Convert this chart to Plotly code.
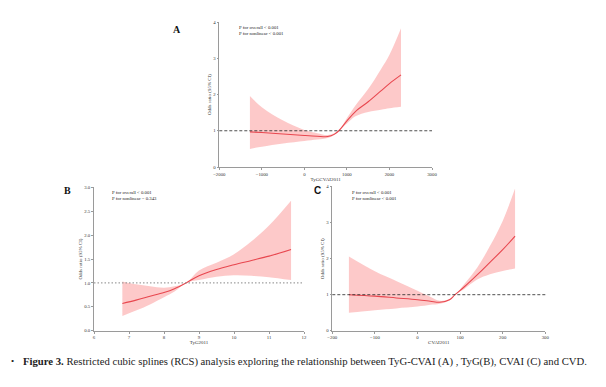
import plotly.graph_objects as go

# ---------------- data ----------------
# Panel A: TyG-CVAI
a_x = [-1280, -1000, -500, 0, 300, 550, 700, 810, 1000, 1200, 1500, 1800, 2000, 2272]
a_or = [0.97, 0.95, 0.91, 0.87, 0.85, 0.84, 0.90, 1.00, 1.27, 1.53, 1.80, 2.10, 2.30, 2.54]
a_lo = [0.50, 0.56, 0.65, 0.72, 0.76, 0.80, 0.88, 1.00, 1.20, 1.40, 1.52, 1.58, 1.62, 1.66]
a_hi = [1.96, 1.65, 1.28, 1.02, 0.93, 0.88, 0.93, 1.00, 1.35, 1.70, 2.15, 2.70, 3.10, 3.83]

# Panel B: TyG
b_x = [6.81, 7.2, 7.6, 8.0, 8.3, 8.63, 9.0, 9.5, 10.0, 10.5, 11.0, 11.63]
b_or = [0.57, 0.64, 0.72, 0.80, 0.88, 1.00, 1.15, 1.28, 1.38, 1.47, 1.56, 1.70]
b_lo = [0.31, 0.42, 0.55, 0.70, 0.82, 1.00, 1.06, 1.13, 1.16, 1.15, 1.12, 1.06]
b_hi = [1.03, 0.97, 0.93, 0.90, 0.93, 1.00, 1.26, 1.42, 1.60, 1.87, 2.20, 2.72]

# Panel C: CVAI
c_x = [-161, -100, -50, 0, 30, 52, 75, 88, 110, 140, 170, 200, 229]
c_or = [1.00, 0.96, 0.91, 0.86, 0.82, 0.79, 0.86, 1.00, 1.22, 1.55, 1.90, 2.25, 2.63]
c_lo = [0.50, 0.57, 0.62, 0.67, 0.72, 0.75, 0.84, 1.00, 1.16, 1.42, 1.57, 1.66, 1.73]
c_hi = [2.06, 1.65, 1.38, 1.11, 0.94, 0.83, 0.88, 1.00, 1.30, 1.75, 2.35, 3.05, 3.95]

a_xticks = [-2000, -1000, 0, 1000, 2000, 3000]
a_yticks = [0, 1, 2, 3, 4]
b_xticks = [6, 7, 8, 9, 10, 11, 12]
b_yticks = [0.0, 0.5, 1.0, 1.5, 2.0, 2.5, 3.0]
c_xticks = [-200, -100, 0, 100, 200, 300]
c_yticks = [0, 1, 2, 3, 4]

x_titles = ["TyGCVAI2011", "TyG2011", "CVAI2011"]
y_title = "Odds ratio (95% CI)"
p_texts = [
    "P for overall < 0.001<br>P for nonlinear < 0.001",
    "P for overall < 0.001<br>P for nonlinear = 0.343",
    "P for overall < 0.001<br>P for nonlinear < 0.001",
]
panel_labels = ["A", "B", "C"]
caption = ("<b>Figure 3.</b> Restricted cubic splines (RCS) analysis exploring the relationship "
           "between TyG-CVAI (A) , TyG(B), CVAI (C) and CVD.")

# ---------------- figure ----------------
OFF = 8  # page body margin
W, H = 606 - OFF, 387 - OFF
SERIF = "Liberation Serif"
LINE = "#e8474f"
FILL = "rgba(251,168,168,0.62)"

fig = go.Figure()

panels = [
    (a_x, a_or, a_lo, a_hi, "x", "y"),
    (b_x, b_or, b_lo, b_hi, "x2", "y2"),
    (c_x, c_or, c_lo, c_hi, "x3", "y3"),
]
for xs, ors, los, his, xa, ya in panels:
    fig.add_trace(go.Scatter(x=xs, y=los, mode="lines", line=dict(width=0, shape="spline", color=FILL),
                             xaxis=xa, yaxis=ya, showlegend=False, hoverinfo="skip"))
    fig.add_trace(go.Scatter(x=xs, y=his, mode="lines", line=dict(width=0, shape="spline", color=FILL),
                             fill="tonexty", fillcolor=FILL,
                             xaxis=xa, yaxis=ya, showlegend=False, hoverinfo="skip"))
    fig.add_trace(go.Scatter(x=xs, y=ors, mode="lines", line=dict(width=1.1, shape="spline", color=LINE),
                             xaxis=xa, yaxis=ya, showlegend=False))


def px2x(px):
    return (px - OFF) / W


def py2y(py):
    return 1 - (py - OFF) / H


def axis_common(dom, rng, ticks, fmt=None):
    d = dict(domain=dom, range=rng, tickvals=ticks, showgrid=False, zeroline=False,
             showline=True, linecolor="#9a9a9a", linewidth=0.6, ticks="outside", ticklen=2,
             tickcolor="#9a9a9a", tickwidth=0.6,
             tickfont=dict(family=SERIF, size=4.8, color="#333"), automargin=False)
    if fmt:
        d["tickformat"] = fmt
    return d


xa_dom = [px2x(219.3), px2x(432)]
ya_dom = [py2y(167), py2y(22)]
xb_dom = [px2x(94), px2x(304)]
yb_dom = [py2y(330.7), py2y(187.3)]
xc_dom = [px2x(332.3), px2x(545.3)]
yc_dom = [py2y(330.7), py2y(186.7)]

tfont = dict(family=SERIF, size=5, color="#333")

fig.update_layout(
    width=W, height=H,
    margin=dict(l=0, r=0, t=0, b=0),
    paper_bgcolor="white", plot_bgcolor="white",
    xaxis=dict(**axis_common(xa_dom, [-2000, 3000], a_xticks), anchor="y",
               title=dict(text=x_titles[0], font=tfont, standoff=1)),
    yaxis=dict(**axis_common(ya_dom, [0, 4], a_yticks), anchor="x",
               title=dict(text=y_title, font=tfont, standoff=1)),
    xaxis2=dict(**axis_common(xb_dom, [6, 12], b_xticks), anchor="y2",
                title=dict(text=x_titles[1], font=tfont, standoff=1)),
    yaxis2=dict(**axis_common(yb_dom, [0, 3], b_yticks, ".1f"), anchor="x2",
                title=dict(text=y_title, font=tfont, standoff=1)),
    xaxis3=dict(**axis_common(xc_dom, [-200, 300], c_xticks), anchor="y3",
                title=dict(text=x_titles[2], font=tfont, standoff=1)),
    yaxis3=dict(**axis_common(yc_dom, [0, 4], c_yticks), anchor="x3",
                title=dict(text=y_title, font=tfont, standoff=1)),
)

# reference lines at OR = 1
fig.add_shape(type="line", xref="x domain", yref="y", x0=0, x1=1, y0=1, y1=1,
              line=dict(color="#222", width=0.8, dash="3px,2px"))
fig.add_shape(type="line", xref="x2 domain", yref="y2", x0=0, x1=1, y0=1, y1=1,
              line=dict(color="#888", width=1, dash="1.5px,2px"))
fig.add_shape(type="line", xref="x3 domain", yref="y3", x0=0, x1=1, y0=1, y1=1,
              line=dict(color="#222", width=0.8, dash="3px,2px"))

# P-value texts
for (px, py), txt in zip([(237, 23), (110, 188), (350, 188)], p_texts):
    fig.add_annotation(x=px2x(px), y=py2y(py), xref="paper", yref="paper", text=txt,
                       showarrow=False, xanchor="left", yanchor="top", align="left",
                       font=dict(family=SERIF, size=4.8, color="#222"))

# panel labels
for (px, py), lab, fam in zip([(177, 29), (67, 190), (317, 190)], panel_labels,
                              [SERIF, SERIF, "Liberation Sans"]):
    fig.add_annotation(x=px2x(px), y=py2y(py), xref="paper", yref="paper", text=f"<b>{lab}</b>",
                       showarrow=False, xanchor="center", yanchor="middle",
                       font=dict(family=fam, size=10, color="#111"))

# caption
fig.add_annotation(x=px2x(9), y=py2y(361), xref="paper", yref="paper", text="•",
                   showarrow=False, xanchor="left", yanchor="middle",
                   font=dict(family=SERIF, size=9, color="#222"))
fig.add_annotation(x=px2x(21), y=py2y(361), xref="paper", yref="paper", text=caption,
                   showarrow=False, xanchor="left", yanchor="middle",
                   font=dict(family=SERIF, size=10.7, color="#222"))

fig.write_html("out.html")
